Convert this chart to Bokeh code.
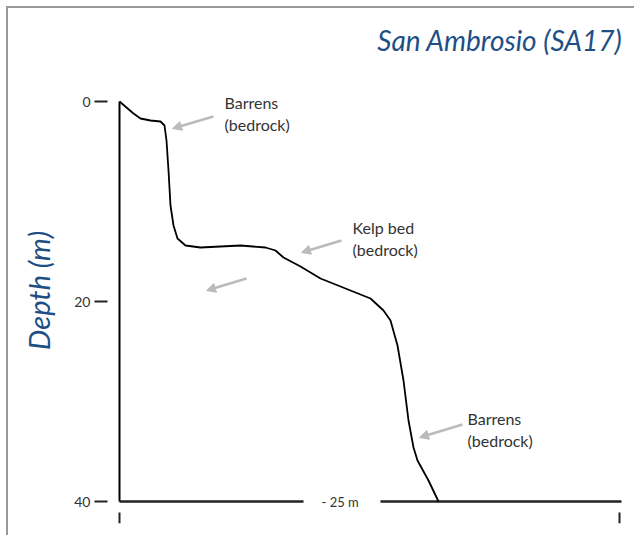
from bokeh.plotting import figure
from bokeh.models import Range1d, Arrow, NormalHead, FixedTicker
from bokeh.core.properties import value
from bokeh.embed import file_html
from bokeh.resources import INLINE

# profile: distance (m) vs depth (m)
dist = [0, 0.7, 1.05, 1.55, 2.05, 2.25, 2.35, 2.45, 2.55, 2.7, 2.9, 3.3, 4.05, 6.05, 7.3, 7.8, 8.2,
        9.05, 10.05, 11.3, 12.55, 13.2, 13.55, 13.9, 14.2, 14.45, 14.7, 14.9, 15.45, 15.95]
depth = [0, 1.2, 1.7, 1.9, 2.0, 2.4, 3.9, 6.9, 10.4, 12.4, 13.7, 14.4, 14.6, 14.4, 14.6, 14.9, 15.6,
         16.5, 17.7, 18.7, 19.7, 20.9, 21.9, 24.4, 27.9, 31.9, 34.6, 35.9, 37.9, 40]
depth_ticks = [0, 20, 40]
transect_ticks = [0, 25]
transect_len = 25
max_depth = 40

ann_text = ["Barrens\n(bedrock)", "Kelp bed\n(bedrock)", "Barrens\n(bedrock)"]
ann_x = [5.25, 11.65, 17.4]
ann_y = [-0.9, 11.6, 30.7]
arr_x0 = [4.7, 11.1, 6.35, 17.15]
arr_y0 = [1.5, 13.9, 17.7, 32.3]
arr_x1 = [2.65, 9.1, 4.35, 15.0]
arr_y1 = [2.7, 15.1, 18.9, 33.6]

BLUE = "#1d4f85"
FONT = "Lato"

p = figure(width=628, height=529, output_backend="svg", toolbar_location=None,
           x_range=Range1d(-0.6, 25.3), y_range=Range1d(42.2, -4.4),
           min_border_left=99, min_border_right=11, min_border_top=49, min_border_bottom=14,
           title="San Ambrosio (SA17)")
p.styles = {"margin-left": "6px", "margin-top": "6px",
            "border-left": "2px solid #999999", "border-top": "2px solid #999999"}
p.outline_line_color = None
p.grid.visible = False

p.title.align = "right"
p.title.text_font = FONT
p.title.text_font_style = "italic"
p.title.text_font_size = "28px"
p.title.text_color = BLUE
p.title.standoff = 2
p.title.offset = 3

# left axis
ya = p.yaxis[0]
ya.ticker = FixedTicker(ticks=depth_ticks)
ya.axis_line_color = None
ya.major_tick_in = 0
ya.major_tick_out = 13
ya.major_tick_line_width = 2
ya.major_tick_line_color = "#222222"
ya.minor_tick_line_color = None
ya.major_label_standoff = 4
ya.major_label_text_font = FONT
ya.major_label_text_font_size = "14px"
ya.major_label_text_color = "#333333"
ya.axis_label = "Depth (m)"
ya.axis_label_text_font = FONT
ya.axis_label_text_font_style = "italic"
ya.axis_label_text_font_size = "29px"
ya.axis_label_text_color = BLUE
ya.axis_label_standoff = 15

p.xaxis.visible = False

# end ticks of the transect, below the seabed line
p.segment(x0=transect_ticks, x1=transect_ticks, y0=[max_depth + 1.1] * 2, y1=[max_depth + 2.2] * 2,
          line_color="#222222", line_width=2)

# frame lines
p.line([0, 0], [0, max_depth], line_color="black", line_width=2)
p.line([0, 9.2], [max_depth, max_depth], line_color="#222222", line_width=2.5)
p.line([13.05, transect_len + 0.1], [max_depth, max_depth], line_color="#222222", line_width=2.5)
p.text(x=[10.1], y=[max_depth], text=["- 25 m"], text_baseline="middle", text_align="left",
       text_font=value(FONT), text_font_size="13px", text_color="#333333")

# profile
p.line(dist, depth, line_color="black", line_width=1.8)

# annotations
p.text(x=ann_x, y=ann_y, text=ann_text, text_baseline="top", text_align="left",
       text_font=value(FONT), text_font_size="16px", text_color="#333333", text_line_height=1.2)
for x0, y0, x1, y1 in zip(arr_x0, arr_y0, arr_x1, arr_y1):
    p.add_layout(Arrow(end=NormalHead(size=9, fill_color="#bbbbbb", line_color="#bbbbbb"),
                       x_start=x0, y_start=y0, x_end=x1, y_end=y1,
                       line_color="#bbbbbb", line_width=2.5))

open("out.html", "w").write(file_html(p, INLINE))
